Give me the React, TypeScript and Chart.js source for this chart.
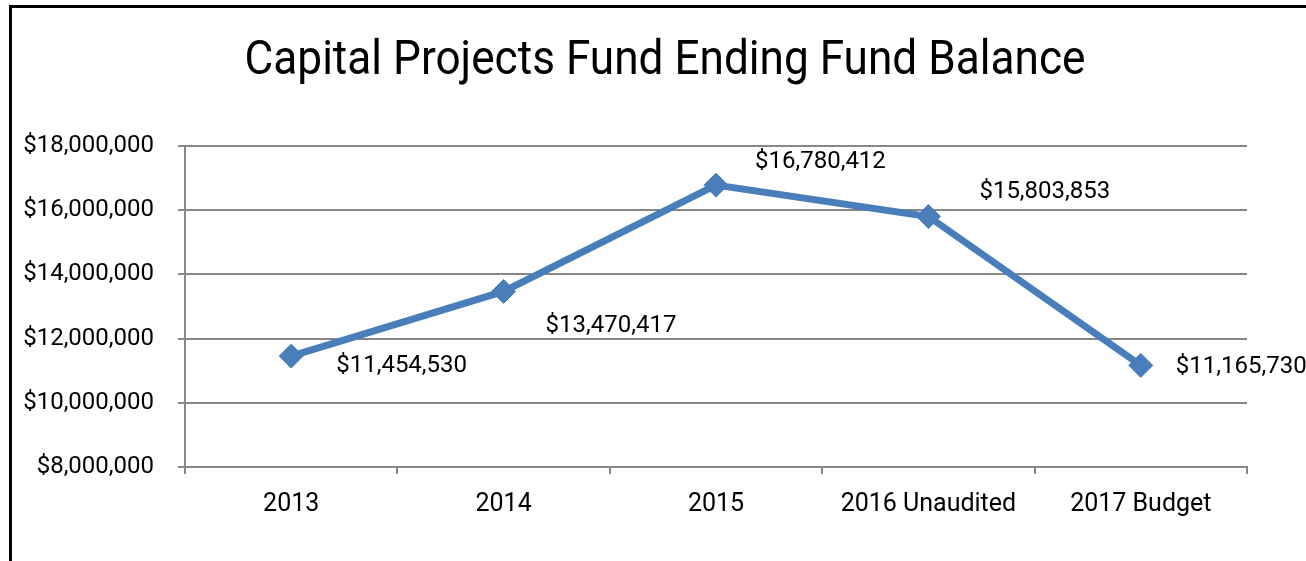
import React, { useEffect, useRef } from "react";
import { Chart, registerables } from "chart.js";

Chart.register(...registerables);

const categories = ["2013", "2014", "2015", "2016 Unaudited", "2017 Budget"];
const balances = [11454530, 13470417, 16780412, 15803853, 11165730];
const yTickValues = [8000000, 10000000, 12000000, 14000000, 16000000, 18000000];
const titleText = "Capital Projects Fund Ending Fund Balance";

// label offsets (dx from point to text start, dy to text middle)
const labelOffsets = [
  [45, 10],
  [42, 35],
  [39, -23],
  [51, -24],
  [35, 2],
];

const FONT = "Roboto, sans-serif";
const LINE = "#4a7ebb";

const fmt = (v: number) => "$" + v.toLocaleString("en-US");

const titlePlugin = {
  id: "customTitle",
  afterDraw(chart: any) {
    const ctx = chart.ctx;
    ctx.save();
    ctx.font = `48px ${FONT}`;
    ctx.fillStyle = "#000";
    ctx.textAlign = "center";
    ctx.textBaseline = "alphabetic";
    ctx.translate(665, 74);
    ctx.scale(0.92, 1);
    ctx.fillText(titleText, 0, 0);
    ctx.restore();
  },
};

const dataLabelPlugin = {
  id: "dataLabels",
  afterDatasetsDraw(chart: any) {
    const meta = chart.getDatasetMeta(0);
    const ctx = chart.ctx;
    ctx.save();
    ctx.font = `24px ${FONT}`;
    ctx.fillStyle = "#000";
    ctx.textAlign = "left";
    ctx.textBaseline = "middle";
    meta.data.forEach((pt: any, i: number) => {
      const [dx, dy] = labelOffsets[i];
      ctx.fillText(fmt(balances[i]), pt.x + dx, pt.y + dy);
    });
    ctx.restore();
  },
};

export default function App() {
  const ref = useRef<HTMLCanvasElement>(null);
  useEffect(() => {
    const chart = new Chart(ref.current!, {
      type: "line",
      data: {
        labels: categories,
        datasets: [
          {
            data: balances,
            borderColor: LINE,
            backgroundColor: LINE,
            borderWidth: 7,
            pointStyle: "rectRot",
            pointRadius: 12,
            pointBorderWidth: 1,
            pointBackgroundColor: LINE,
            pointBorderColor: LINE,
            tension: 0,
          },
        ],
      },
      options: {
        responsive: false,
        animation: false,
        layout: { padding: { left: 0, right: 59, top: 146, bottom: 0 } },
        plugins: {
          legend: { display: false },
          tooltip: { enabled: false },
          title: { display: false },
        },
        scales: {
          x: {
            type: "category",
            offset: true,
            grid: {
              offset: true,
              drawOnChartArea: false,
              drawTicks: true,
              tickLength: 7,
              color: "#878787",
              lineWidth: 2,
            },
            border: { color: "#878787", width: 2 },
            ticks: {
              color: "#000",
              font: { family: FONT, size: 25 },
              padding: 16,
              maxRotation: 0,
              autoSkip: false,
            },
            afterFit(scale: any) {
              scale.height = 94;
            },
          },
          y: {
            min: 8000000,
            max: 18000000,
            afterBuildTicks(scale: any) {
              scale.ticks = yTickValues.map((v) => ({ value: v }));
            },
            grid: {
              color: "#878787",
              lineWidth: 2,
              drawTicks: true,
              tickLength: 7,
            },
            border: { color: "#878787", width: 2 },
            ticks: {
              color: "#000",
              font: { family: FONT, size: 24 },
              padding: 24,
              callback: (v: any) => fmt(Number(v)),
            },
            afterFit(scale: any) {
              scale.width = 185;
            },
          },
        },
      },
      plugins: [dataLabelPlugin, titlePlugin],
    });
    return () => chart.destroy();
  }, []);

  return (
    <div style={{ position: "fixed", left: 0, top: 0, width: 1306, height: 561, background: "#fff", overflow: "hidden" }}>
      <div
        style={{
          position: "absolute",
          left: 9,
          top: 5,
          width: 1400,
          height: 700,
          borderLeft: "3px solid #000",
          borderTop: "3px solid #000",
        }}
      />
      <canvas ref={ref} width={1306} height={561} style={{ position: "absolute", left: 0, top: 0, display: "block" }} />
    </div>
  );
}
